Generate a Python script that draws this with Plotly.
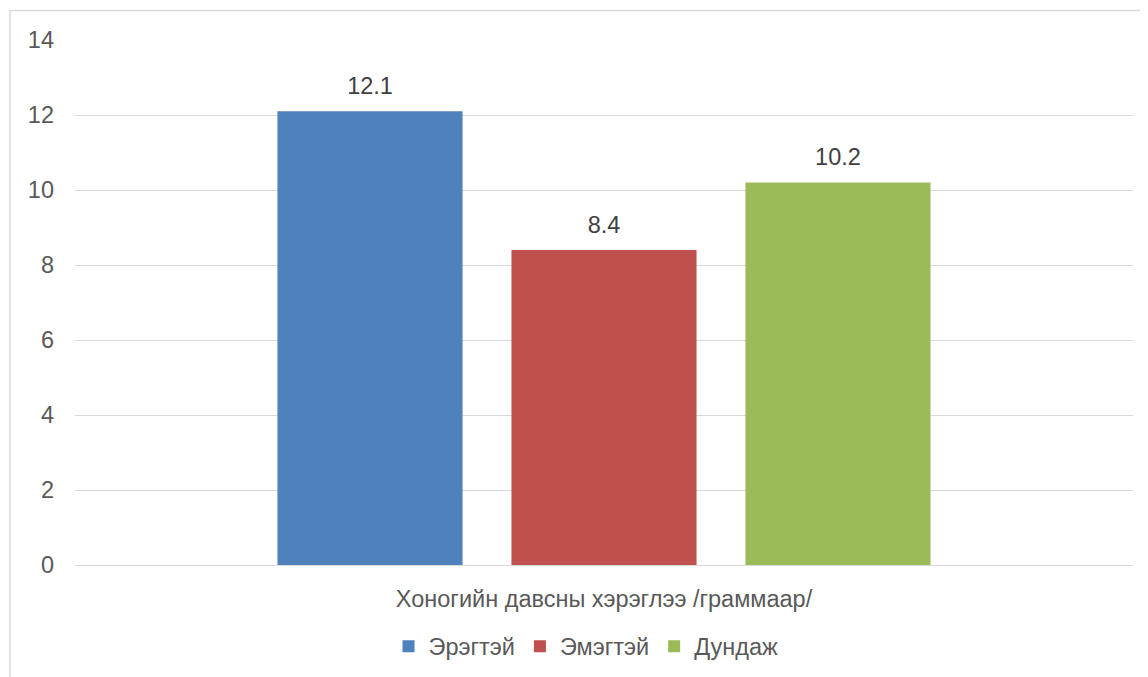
import plotly.graph_objects as go

category = ["Хоногийн давсны хэрэглээ /граммаар/"]
series_names = ["Эрэгтэй", "Эмэгтэй", "Дундаж"]
series_values = [[12.1], [8.4], [10.2]]
series_colors = ["#4F81BD", "#C0504D", "#9BBB59"]
y_ticks = [0, 2, 4, 6, 8, 10, 12, 14]

FONT = "Liberation Sans, Arial, sans-serif"
FS = 23.5

fig = go.Figure()
for name, vals, col in zip(series_names, series_values, series_colors):
    fig.add_trace(go.Bar(
        x=category, y=vals, name=name, marker_color=col,
        marker_line_width=0, offsetgroup=name, alignmentgroup="a",
    ))
for name, vals in zip(series_names, series_values):
    fig.add_trace(go.Scatter(
        x=category, y=vals, mode="markers+text", text=[f"{v:.1f}" for v in vals],
        textposition="top center", offsetgroup=name, alignmentgroup="a",
        marker=dict(size=17, opacity=0), showlegend=False, hoverinfo="skip",
        textfont=dict(family=FONT, size=FS, color="#404040"), cliponaxis=False,
    ))

fig.update_layout(
    width=1148, height=677,
    margin=dict(l=67, r=23, t=32, b=120),
    paper_bgcolor="white", plot_bgcolor="white",
    barmode="group", bargap=0.3365, bargroupgap=0.209,
    scattermode="group", scattergap=0.3365,
    font=dict(family=FONT, size=FS, color="#595959"),
    legend=dict(orientation="h", x=0.483, xanchor="center", y=-0.155, yanchor="middle",
                font=dict(size=FS, color="#595959"), itemwidth=30, traceorder="normal"),
    xaxis=dict(range=[-0.5, 0.5], showgrid=False, showline=False, zeroline=False,
               ticks="", ticklabelstandoff=17, tickfont=dict(size=FS, color="#595959")),
    yaxis=dict(range=[0, 14], tickvals=y_ticks, showgrid=True, gridcolor="#D9D9D9",
               gridwidth=1.3, zeroline=True, zerolinecolor="#D9D9D9", zerolinewidth=1.3,
               showline=False, ticks="", ticklabelstandoff=20,
               tickfont=dict(size=FS, color="#595959")),
    shapes=[dict(type="rect", xref="paper", yref="paper",
                 x0=-65 / 1058, x1=1.2, y0=-0.5, y1=1 + 29.5 / 525,
                 line=dict(color="#D9D9D9", width=1.5), fillcolor="rgba(0,0,0,0)",
                 layer="below")],
)

fig.write_html("out.html")
